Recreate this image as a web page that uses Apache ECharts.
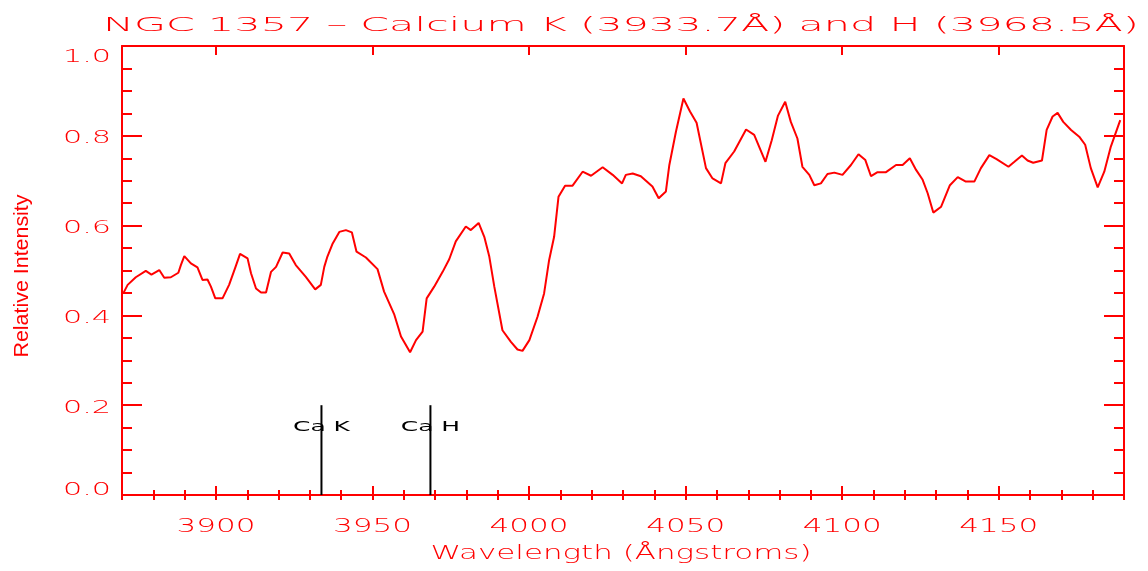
<!DOCTYPE html>
<html><head><meta charset="utf-8">
<script src="https://cdn.jsdelivr.net/npm/echarts@6/dist/echarts.min.js"></script>
<style>html,body{margin:0;padding:0;background:#fff}#c{width:1148px;height:571px}</style>
</head><body><div id="c"></div>
<script>
const titleText = 'NGC 1357 \u2013 Calcium K (3933.7\u00C5) and H (3968.5\u00C5)';
const xName = 'Wavelength (\u00C5ngstroms)';
const yName = 'Relative Intensity';
const wavelengths = [3870.4,3871.8,3874.4,3877.6,3879.4,3881.9,3883.5,3885.6,3888.0,3888.8,3889.9,3892.0,3894.1,3895.7,3897.3,3898.4,3899.8,3902.1,3904.2,3906.2,3907.7,3910.1,3911.2,3912.8,3914.4,3916.0,3917.6,3919.2,3921.3,3923.4,3925.5,3928.7,3931.7,3933.5,3934.6,3935.6,3937.2,3939.4,3941.5,3943.4,3944.9,3947.9,3951.6,3953.7,3956.9,3959.1,3962.0,3963.9,3966.0,3967.3,3969.7,3972.4,3974.5,3976.6,3979.8,3981.4,3983.9,3985.7,3987.3,3988.9,3991.5,3994.2,3996.3,3997.9,4000.1,4002.7,4004.8,4006.4,4008.0,4009.4,4011.5,4013.9,4017.1,4019.8,4023.5,4026.7,4029.7,4030.9,4033.1,4035.7,4039.4,4041.4,4043.7,4044.8,4046.9,4049.3,4051.4,4053.5,4056.5,4058.6,4061.3,4062.7,4065.5,4069.3,4071.9,4075.5,4077.5,4079.5,4081.8,4083.6,4085.7,4087.3,4089.5,4091.1,4093.2,4095.3,4097.5,4100.1,4102.8,4105.2,4107.4,4109.2,4111.3,4114.0,4117.2,4119.3,4121.6,4123.6,4125.7,4127.3,4129.1,4131.6,4134.4,4136.9,4139.5,4142.2,4144.3,4147.0,4149.3,4153.1,4155.0,4157.4,4159.2,4161.0,4163.8,4165.3,4167.2,4168.8,4170.6,4173.1,4175.7,4177.6,4179.4,4181.6,4183.7,4185.8,4188.8];
const intensities = [0.449,0.468,0.485,0.499,0.491,0.501,0.484,0.485,0.495,0.512,0.532,0.516,0.507,0.479,0.480,0.464,0.438,0.438,0.468,0.507,0.537,0.527,0.494,0.460,0.451,0.451,0.497,0.508,0.540,0.538,0.512,0.486,0.458,0.468,0.508,0.531,0.559,0.586,0.590,0.585,0.542,0.529,0.503,0.453,0.403,0.353,0.318,0.345,0.364,0.438,0.464,0.497,0.525,0.565,0.598,0.590,0.606,0.575,0.531,0.464,0.367,0.341,0.324,0.321,0.345,0.397,0.449,0.523,0.575,0.664,0.689,0.689,0.720,0.711,0.730,0.713,0.694,0.713,0.716,0.710,0.687,0.661,0.676,0.735,0.809,0.883,0.854,0.829,0.728,0.705,0.694,0.739,0.765,0.814,0.802,0.742,0.790,0.845,0.876,0.831,0.794,0.731,0.713,0.690,0.694,0.715,0.718,0.713,0.735,0.759,0.746,0.710,0.719,0.719,0.735,0.735,0.750,0.724,0.702,0.672,0.629,0.642,0.690,0.708,0.698,0.698,0.728,0.757,0.748,0.731,0.742,0.756,0.745,0.740,0.745,0.813,0.843,0.851,0.831,0.813,0.798,0.780,0.728,0.685,0.720,0.776,0.835];
const xTickLabels = [3900, 3950, 4000, 4050, 4100, 4150];
const yTickLabels = [0.0, 0.2, 0.4, 0.6, 0.8, 1.0];
const caLines = [3933.7, 3968.5];
const caLabels = ['Ca K', 'Ca H'];
const caTop = 0.2;

const RED = '#ff0000';
const FONT = '"DejaVu Sans"';
const chart = echarts.init(document.getElementById('c'), null, {renderer: 'canvas'});
const seriesData = wavelengths.map((w, i) => [w, intensities[i]]);
const axisLine = {show: true, onZero: false, lineStyle: {color: RED, width: 2}};
const baseX = {type: 'value', min: 3870, max: 4190, interval: 10,
  axisLabel: {show: false}, splitLine: {show: false}};
const majorX = (pos) => Object.assign({}, baseX, {position: pos, axisLine: axisLine,
  axisTick: {show: true, inside: true, length: 9, customValues: xTickLabels, lineStyle: {color: RED, width: 2}}});
const minorX = (pos) => Object.assign({}, baseX, {position: pos, axisLine: {show: false},
  axisTick: {show: true, inside: true, length: 5, lineStyle: {color: RED, width: 2}}});
const yAx = (pos) => ({type: 'value', min: 0, max: 1, interval: 0.2, position: pos,
  axisLine: axisLine, axisLabel: {show: false}, splitLine: {show: false},
  axisTick: {show: true, inside: true, length: 20, lineStyle: {color: RED, width: 2}},
  minorTick: {show: true, splitNumber: 4, length: 10, lineStyle: {color: RED, width: 2}},
  minorSplitLine: {show: false}});

const series = [{type: 'line', data: seriesData, symbol: 'none', showSymbol: false,
  lineStyle: {color: RED, width: 2}, itemStyle: {color: RED}, z: 3}];
caLines.forEach((c) => series.push({type: 'line', data: [[c, 0], [c, caTop]], symbol: 'none',
  lineStyle: {color: '#000', width: 2}, itemStyle: {color: '#000'}, z: 4}));

chart.setOption({
  animation: false,
  backgroundColor: '#fff',
  grid: {left: 122, right: 24, top: 46, bottom: 76, containLabel: false},
  xAxis: [majorX('bottom'), minorX('bottom'), majorX('top'), minorX('top')],
  yAxis: [yAx('left'), yAx('right')],
  series: series
});

const cv = document.createElement('canvas').getContext('2d');
function scaleFor(text, size, target, family, weight) {
  cv.font = (weight || 'normal') + ' ' + size + 'px ' + (family || FONT);
  return target / cv.measureText(text).width;
}
const W = 200;
function txt(text, x, y, size, sx, align, fill, extra) {
  return Object.assign({type: 'text', x: x, y: y, scaleX: sx, silent: true, z: 10,
    style: {text: text, fontSize: size, fontFamily: extra && extra.family || FONT,
      fontWeight: extra && extra.weight || W,
      fill: fill || RED, align: align || 'center', verticalAlign: 'middle'}}, extra && extra.el || {});
}
const g = [];
g.push(txt(titleText, 621, 26, 20, scaleFor(titleText, 20, 1036, FONT, W)));
g.push(txt(xName, 621, 554, 20, scaleFor(xName, 20, 381, FONT, W)));
const sxX = scaleFor('3900', 19, 79, FONT, W);
xTickLabels.forEach((v) => {
  const p = chart.convertToPixel({xAxisIndex: 0}, v);
  g.push(txt(String(v), p, 527, 19, sxX, 'center'));
});
const sxY = scaleFor('1.0', 18, 48, FONT, W);
const yTop = chart.convertToPixel({yAxisIndex: 0}, 1), yBot = chart.convertToPixel({yAxisIndex: 0}, 0);
yTickLabels.forEach((v) => {
  let p = chart.convertToPixel({yAxisIndex: 0}, v) + 3;
  p = Math.max(yTop + 11, Math.min(yBot - 5, p));
  g.push(txt(v.toFixed(1), 111, p, 18, sxY, 'right'));
});
const sxC = scaleFor('Ca K', 14, 57, FONT, 'normal');
caLines.forEach((c, i) => {
  const px = chart.convertToPixel({xAxisIndex: 0}, c);
  const py = chart.convertToPixel({yAxisIndex: 0}, caTop) + 22;
  g.push(txt(caLabels[i], px, py, 14, sxC, 'center', '#000', {weight: 'normal'}));
});
g.push(txt(yName, 22, 276, 21, scaleFor(yName, 21, 163, '"Liberation Sans"', 'normal'), 'center', RED,
  {family: '"Liberation Sans"', weight: 'normal', el: {rotation: Math.PI / 2}}));
chart.setOption({graphic: {elements: g}});
</script></body></html>
